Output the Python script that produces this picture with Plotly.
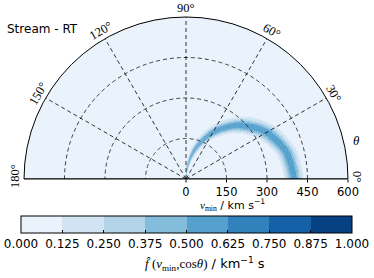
import numpy as np
import plotly.graph_objects as go

# ---- data ----
title_text = "Stream - RT"
levels = [0.0, 0.125, 0.25, 0.375, 0.5, 0.625, 0.75, 0.875, 1.0]
level_colors = ["#eaf3fb", "#d2e3f3", "#b2d3e8", "#84bcdb", "#56a0ce",
                "#3181bd", "#1461a8", "#084084"]
ridge_theta = [0, 15, 30, 45, 60, 75, 90]          # deg
ridge_r = [400, 386, 346, 283, 200, 104, 0]        # km/s, ridge position
ridge_sigma = [20, 20.5, 22, 23.5, 24, 25, 25]     # km/s, radial width
ridge_peak = [0.59, 0.60, 0.61, 0.62, 0.62, 0.61, 0.60]
radial_ticks = [0, 150, 300, 450, 600]
angle_ticks = [0, 30, 60, 90, 120, 150, 180]

W, H = 374, 278
cx, cy, R = 186.0, 179.0, 162.0   # polar centre / radius in px

# ---- build the density field on a polar grid ----
dth, dr = 1.0, 2.0
th_c = np.arange(dth / 2, 180, dth)
r_edges = np.arange(0, 600 + dr, dr)
r_c = 0.5 * (r_edges[:-1] + r_edges[1:])

b_theta, b_base, b_len, b_val = [], [], [], []
for t in th_c:
    if t > 90:
        continue
    r0 = np.interp(t, ridge_theta, ridge_r)
    sg = np.interp(t, ridge_theta, ridge_sigma)
    pk = np.interp(t, ridge_theta, ridge_peak)
    f = pk * np.exp(-0.5 * ((r_c - r0) / sg) ** 2)
    lev = np.clip(np.floor(f / 0.125).astype(int), 0, 7)
    i = 0
    n = len(lev)
    while i < n:
        j = i
        while j + 1 < n and lev[j + 1] == lev[i]:
            j += 1
        if lev[i] >= 1:
            b_theta.append(t)
            b_base.append(r_edges[i])
            b_len.append(r_edges[j + 1] - r_edges[i])
            b_val.append(levels[lev[i]] + 0.0625)
        i = j + 1

cs = []
for k, c in enumerate(level_colors):
    cs.append([levels[k], c])
    cs.append([levels[k + 1], c])

fig = go.Figure()
fig.add_trace(go.Barpolar(
    theta=b_theta, r=b_len, base=b_base, width=1.2,
    marker=dict(color=b_val, colorscale=cs, cmin=0, cmax=1, line=dict(width=0),
                showscale=True,
                colorbar=dict(orientation="h", x=186.5 / W, xanchor="center",
                              y=1 - 216 / H, yanchor="top",
                              lenmode="pixels", len=331,
                              thicknessmode="pixels", thickness=17,
                              outlinecolor="black", outlinewidth=1,
                              tickvals=levels,
                              ticktext=["%.3f" % v for v in levels],
                              ticks="inside", ticklen=3, tickcolor="black",
                              tickfont=dict(family="DejaVu Sans", size=12, color="black"),
                              xpad=0, ypad=0)),
    hoverinfo="skip", showlegend=False))

# dashed grid drawn above the field
dash = "4px,3px"
circ_t = np.linspace(0, 180, 361)
for rv in radial_ticks[1:-1]:
    fig.add_trace(go.Scatterpolar(theta=circ_t, r=np.full(circ_t.shape, rv), mode="lines",
                                  line=dict(color="black", width=0.8, dash=dash),
                                  hoverinfo="skip", showlegend=False))
for a in angle_ticks[1:-1]:
    fig.add_trace(go.Scatterpolar(theta=[a, a], r=[0, 600], mode="lines",
                                  line=dict(color="black", width=0.8, dash=dash),
                                  hoverinfo="skip", showlegend=False))
fig.add_trace(go.Scatterpolar(theta=[180, 180, 0], r=[600, 0, 600], mode="lines",
                              line=dict(color="black", width=1.2),
                              hoverinfo="skip", showlegend=False))

fig.update_layout(
    width=W, height=H, margin=dict(l=0, r=0, t=0, b=0, autoexpand=False),
    paper_bgcolor="white",
    polar=dict(
        sector=[0, 180], bgcolor=level_colors[0],
        domain=dict(x=[(cx - R) / W, (cx + R) / W], y=[(H - cy) / H, (H - cy + R) / H]),
        radialaxis=dict(range=[0, 600], tickvals=radial_ticks, angle=0, side="clockwise",
                        showline=False, showgrid=False, ticks="outside", ticklen=3,
                        tickcolor="black",
                        tickfont=dict(family="DejaVu Sans", size=11.5, color="black")),
        angularaxis=dict(tickvals=angle_ticks, showticklabels=False, showgrid=False,
                         showline=True, linecolor="black", linewidth=1, ticks=""),
    ),
)

def paper(px, py):
    return px / W, 1 - py / H

anns = []
for a in angle_ticks:
    rr = R + 9
    px = cx + rr * np.cos(np.radians(a))
    py = cy - rr * np.sin(np.radians(a))
    if a in (0, 180):
        py -= 3
    x, y = paper(px, py)
    anns.append(dict(x=x, y=y, xref="paper", yref="paper", text="%d°" % a,
                     showarrow=False, textangle=90 - a, xanchor="center", yanchor="middle",
                     font=dict(family="Liberation Serif", size=12.5, color="black")))
x, y = paper(5, 29)
anns.append(dict(x=x, y=y, xref="paper", yref="paper", text=title_text, showarrow=False,
                 xanchor="left", yanchor="middle",
                 font=dict(family="DejaVu Sans", size=12, color="black")))
x, y = paper(362, 140)
anns.append(dict(x=x, y=y, xref="paper", yref="paper", text="<i>θ</i>", showarrow=False,
                 font=dict(family="Liberation Serif", size=13, color="black")))
x, y = paper(267, 215)
anns.append(dict(x=x, y=y, xref="paper", yref="paper",
                 text="<span style='font-family:Liberation Serif'><i>v</i><sub>min</sub></span> / km s<sup>−1</sup>",
                 showarrow=False,
                 font=dict(family="DejaVu Sans", size=11, color="black")))
x, y = paper(205, 275)
anns.append(dict(x=x, y=y, xref="paper", yref="paper",
                 text="<span style='font-family:Liberation Serif'><i>f̂</i> (<i>v</i><sub>min</sub>,cos<i>θ</i>)</span> / km<sup>−1</sup> s",
                 showarrow=False,
                 font=dict(family="DejaVu Sans", size=13, color="black")))
fig.update_layout(annotations=anns)

fig.write_html("out.html", config={"displayModeBar": False},
               post_script="document.body.style.margin='0';document.body.style.overflow='hidden';")
